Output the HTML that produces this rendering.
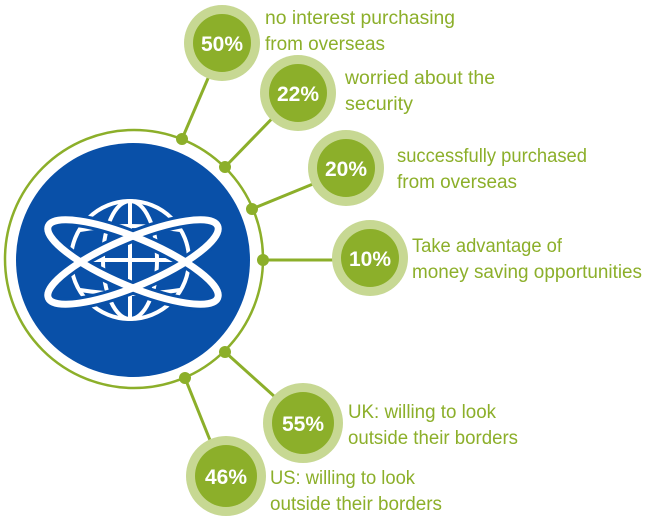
<!DOCTYPE html>
<html><head><style>body{margin:0;background:#fff}svg{display:block}</style></head>
<body>
<svg width="650" height="519" viewBox="0 0 650 519" xmlns="http://www.w3.org/2000/svg">
<g stroke="#8caf2a" stroke-width="3" fill="none">
<circle cx="134" cy="259" r="129" stroke-width="2.5"/>
<line x1="182" y1="139" x2="215" y2="62"/>
<line x1="225" y1="167" x2="290" y2="100"/>
<line x1="252" y1="209" x2="335" y2="175"/>
<line x1="263" y1="260" x2="360" y2="260"/>
<line x1="225" y1="352" x2="295" y2="415"/>
<line x1="185" y1="378" x2="220" y2="465"/>
</g>
<g fill="#8caf2a">
<circle cx="182" cy="139" r="6"/><circle cx="225" cy="167" r="6"/><circle cx="252" cy="209" r="6"/>
<circle cx="263" cy="260" r="6"/><circle cx="225" cy="352" r="6"/><circle cx="185" cy="378" r="6"/>
</g>
<circle cx="133" cy="260" r="117" fill="#0950a8"/>
<g stroke="#fff" fill="none" stroke-width="4">
<circle cx="130" cy="260" r="59"/>
<ellipse cx="130" cy="260" rx="27" ry="59"/>
<line x1="130" y1="201" x2="130" y2="319"/>
<line x1="71" y1="260" x2="189" y2="260"/>
<path d="M80 230 Q130 222 180 230 M80 290 Q130 298 180 290"/>
</g>
<g stroke="#0950a8" stroke-width="13" fill="none">
<ellipse cx="133" cy="262" rx="92" ry="24" transform="rotate(23 133 262)"/>
<ellipse cx="133" cy="262" rx="92" ry="24" transform="rotate(-23 133 262)"/>
</g>
<g stroke="#fff" stroke-width="7" fill="none">
<ellipse cx="133" cy="262" rx="92" ry="24" transform="rotate(23 133 262)"/>
<ellipse cx="133" cy="262" rx="92" ry="24" transform="rotate(-23 133 262)"/>
</g>
<g font-family="Liberation Sans, sans-serif" font-weight="bold" font-size="21" fill="#fff" text-anchor="middle">
<circle cx="222" cy="43" r="38" fill="#c7d893"/><circle cx="222" cy="43" r="29" fill="#8caf2a"/><text x="222" y="51">50%</text>
<circle cx="298" cy="93" r="38" fill="#c7d893"/><circle cx="298" cy="93" r="29" fill="#8caf2a"/><text x="298" y="101">22%</text>
<circle cx="346" cy="168" r="38" fill="#c7d893"/><circle cx="346" cy="168" r="29" fill="#8caf2a"/><text x="346" y="176">20%</text>
<circle cx="370" cy="258" r="38" fill="#c7d893"/><circle cx="370" cy="258" r="29" fill="#8caf2a"/><text x="370" y="266">10%</text>
<circle cx="303" cy="423" r="40" fill="#c7d893"/><circle cx="303" cy="423" r="31" fill="#8caf2a"/><text x="303" y="431">55%</text>
<circle cx="226" cy="476" r="40" fill="#c7d893"/><circle cx="226" cy="476" r="31" fill="#8caf2a"/><text x="226" y="484">46%</text>
</g>
<g font-family="Liberation Sans, sans-serif" font-size="19" fill="#8caf2a">
<text x="265" y="24" textLength="190" lengthAdjust="spacingAndGlyphs">no interest purchasing</text>
<text x="265" y="50" textLength="120" lengthAdjust="spacingAndGlyphs">from overseas</text>
<text x="345" y="84" textLength="150" lengthAdjust="spacingAndGlyphs">worried about the</text>
<text x="345" y="110" textLength="68" lengthAdjust="spacingAndGlyphs">security</text>
<text x="397" y="162" textLength="190" lengthAdjust="spacingAndGlyphs">successfully purchased</text>
<text x="397" y="188" textLength="120" lengthAdjust="spacingAndGlyphs">from overseas</text>
<text x="412" y="252" textLength="150" lengthAdjust="spacingAndGlyphs">Take advantage of</text>
<text x="412" y="278" textLength="230" lengthAdjust="spacingAndGlyphs">money saving opportunities</text>
<text x="348" y="418" textLength="148" lengthAdjust="spacingAndGlyphs">UK: willing to look</text>
<text x="348" y="444" textLength="170" lengthAdjust="spacingAndGlyphs">outside their borders</text>
<text x="270" y="484" textLength="145" lengthAdjust="spacingAndGlyphs">US: willing to look</text>
<text x="270" y="510" textLength="172" lengthAdjust="spacingAndGlyphs">outside their borders</text>
</g>
</svg>
</body></html>
